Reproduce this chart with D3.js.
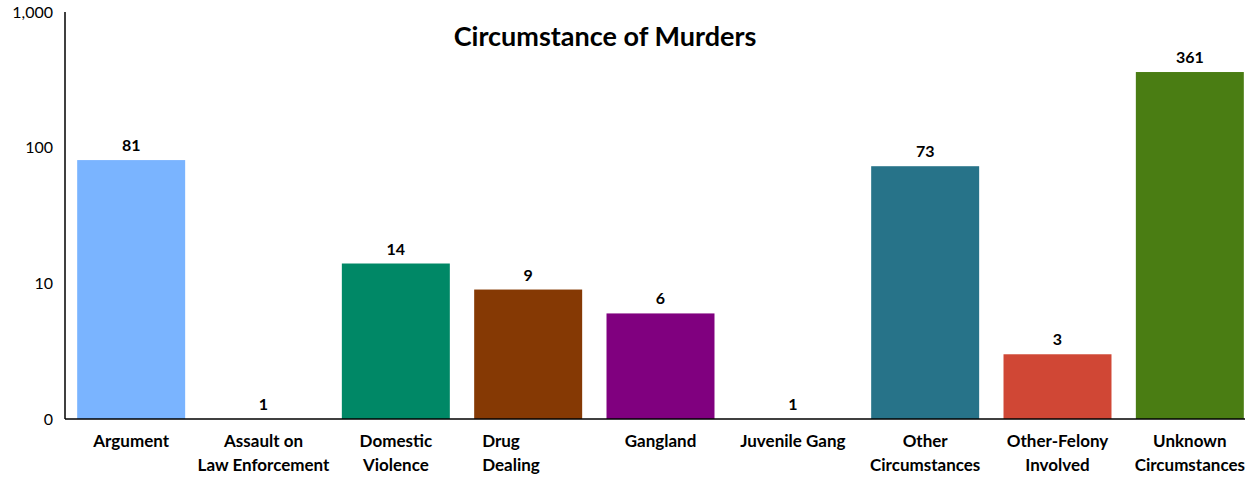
<!DOCTYPE html>
<html><head><meta charset="utf-8">
<script src="https://cdn.jsdelivr.net/npm/d3@7"></script>
<style>body{margin:0;background:#fff}svg{display:block}text{font-family:Lato,"Open Sans",sans-serif}</style>
</head><body><svg id="c" width="1245" height="477"></svg>
<script>
const categories = ["Argument","Assault on Law Enforcement","Domestic Violence","Drug Dealing","Gangland","Juvenile Gang","Other Circumstances","Other-Felony Involved","Unknown Circumstances"];
const labelLines = [["Argument"],["Assault on","Law Enforcement"],["Domestic","Violence"],["Drug","Dealing"],["Gangland"],["Juvenile Gang"],["Other","Circumstances"],["Other-Felony","Involved"],["Unknown","Circumstances"]];
const values = [81,1,14,9,6,1,73,3,361];
const colors = ["#7ab4ff","#7f7f7f","#008866","#853904","#80007f","#7f7f7f","#277389","#d04735","#4a7d13"];
const yTicks = [1,10,100,1000];
const yTickLabels = ["0","10","100","1,000"];
const title = "Circumstance of Murders";

const svg = d3.select("#c");
const x = d3.scaleBand().domain(categories).range([65,1256]).paddingInner(0.184).paddingOuter(0.092);
const y = d3.scaleLog().domain([1,1000]).range([419,12]);

svg.append("text").attr("x",605).attr("y",46).attr("text-anchor","middle")
  .attr("font-size",27).attr("font-weight","bold").attr("fill","#000").text(title);

svg.selectAll("rect.bar").data(values).join("rect").attr("class","bar")
  .attr("x",(d,i)=>x(categories[i])).attr("width",x.bandwidth())
  .attr("y",d=>y(d)).attr("height",d=>y(1)-y(d)).attr("fill",(d,i)=>colors[i]);

svg.selectAll("text.val").data(values).join("text").attr("class","val")
  .attr("x",(d,i)=>x(categories[i])+x.bandwidth()/2).attr("y",d=>y(d)-9)
  .attr("text-anchor","middle").attr("font-size",16).attr("font-weight","bold").attr("fill","#000").text(d=>d);

const yAxis = d3.axisLeft(y).tickValues(yTicks).tickSize(0).tickPadding(12)
  .tickFormat((d,i)=>yTickLabels[yTicks.indexOf(d)]);
const gy = svg.append("g").attr("transform","translate(65,0)").call(yAxis);
gy.select(".domain").remove();
gy.selectAll("text").attr("font-size",16).attr("fill","#000").style("font-family","Lato,'Open Sans',sans-serif");
svg.append("line").attr("x1",65).attr("x2",65).attr("y1",12).attr("y2",419).attr("stroke","#000").attr("stroke-width",1.5);

const xAxis = d3.axisBottom(x).tickSize(0).tickFormat("");
const gx = svg.append("g").attr("transform","translate(0,419)").call(xAxis);
gx.select(".domain").remove();
svg.append("line").attr("x1",65).attr("x2",1245).attr("y1",419).attr("y2",419).attr("stroke","#000").attr("stroke-width",1.5);

gx.selectAll(".tick").each(function(d,i){
  const left = d === "Drug Dealing";
  const t = d3.select(this).append("text").attr("text-anchor",left?"start":"middle").attr("font-size",17)
    .attr("font-weight","bold").attr("fill","#000").attr("y",28);
  labelLines[i].forEach((l,j)=>t.append("tspan").attr("x",left?-46:0).attr("dy",j?24:0).text(l));
});
</script></body></html>
